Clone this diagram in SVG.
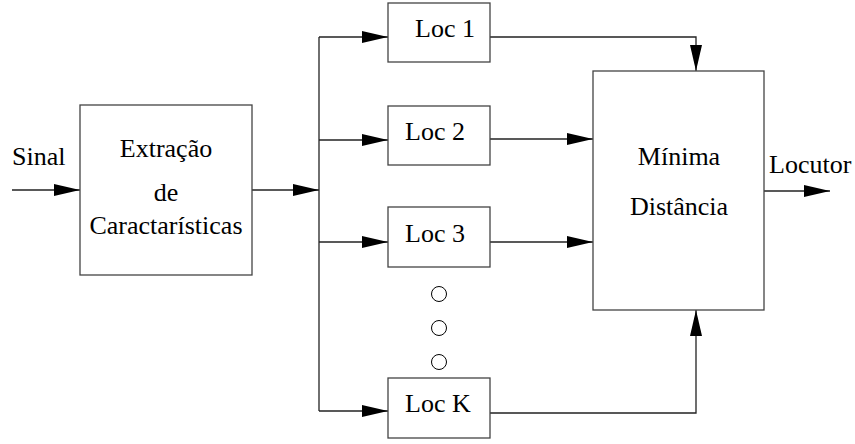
<svg xmlns="http://www.w3.org/2000/svg" width="855" height="444" viewBox="0 0 855 444">
<style>
.box{fill:#fff;stroke:#444;stroke-width:1.3}
.ln{fill:none;stroke:#222;stroke-width:1.3}
text{font-family:'Liberation Serif','DejaVu Serif',serif;font-size:26px;fill:#000}
.c{text-anchor:middle}
.dot{fill:none;stroke:#000;stroke-width:1}
</style>
<defs>
<marker id="ah" markerUnits="userSpaceOnUse" markerWidth="26" markerHeight="12" refX="26" refY="6" orient="auto">
<path d="M0,0 L26,6 L0,12 Z" fill="#000"/>
</marker>
</defs>
<g id="connectors">
<path class="ln" d="M12,190 H80" marker-end="url(#ah)"/>
<path class="ln" d="M252,190 H319" marker-end="url(#ah)"/>
<path class="ln" d="M319,37 V411"/>
<path class="ln" d="M319,37 H388" marker-end="url(#ah)"/>
<path class="ln" d="M319,140 H388" marker-end="url(#ah)"/>
<path class="ln" d="M319,242 H388" marker-end="url(#ah)"/>
<path class="ln" d="M319,411 H388" marker-end="url(#ah)"/>
<path class="ln" d="M490,37 H696 V71" marker-end="url(#ah)"/>
<path class="ln" d="M490,139 H593" marker-end="url(#ah)"/>
<path class="ln" d="M490,242 H593" marker-end="url(#ah)"/>
<path class="ln" d="M490,413 H696 V310" marker-end="url(#ah)"/>
<path class="ln" d="M764,191 H830" marker-end="url(#ah)"/>
</g>
<g id="sinal"><text x="12" y="165">Sinal</text></g>
<g id="extracao">
<rect class="box" x="80" y="105" width="172" height="170"/>
<text class="c" x="166" y="157">Extração</text>
<text class="c" x="166" y="201">de</text>
<text class="c" x="166" y="234">Caractarísticas</text>
</g>
<g id="loc1"><rect class="box" x="388" y="3" width="102" height="59"/><text x="415" y="37">Loc 1</text></g>
<g id="loc2"><rect class="box" x="388" y="106" width="102" height="59"/><text x="405" y="140">Loc 2</text></g>
<g id="loc3"><rect class="box" x="388" y="207" width="102" height="60"/><text x="405" y="242">Loc 3</text></g>
<g id="dots">
<circle class="dot" cx="439" cy="294" r="7.5"/>
<circle class="dot" cx="439" cy="328" r="7.5"/>
<circle class="dot" cx="439" cy="362" r="7.5"/>
</g>
<g id="lock"><rect class="box" x="388" y="378" width="102" height="60"/><text x="405" y="412">Loc K</text></g>
<g id="minima">
<rect class="box" x="593" y="71" width="171" height="239"/>
<text class="c" x="679" y="165">Mínima</text>
<text class="c" x="679" y="215">Distância</text>
</g>
<g id="locutor"><text x="769" y="173">Locutor</text></g>
</svg>
